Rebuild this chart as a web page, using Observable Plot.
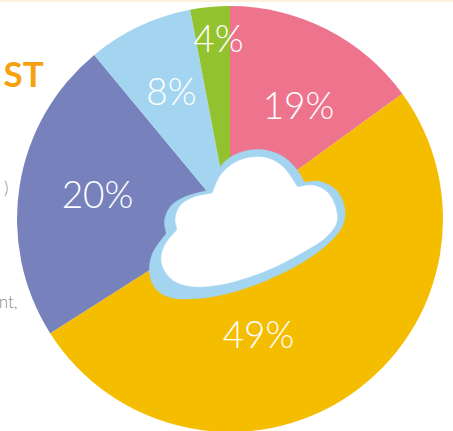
<!DOCTYPE html>
<html><head><meta charset="utf-8">
<script src="https://cdn.jsdelivr.net/npm/d3@7"></script>
<script src="https://cdn.jsdelivr.net/npm/@observablehq/plot@0.6"></script>
<style>
html,body{margin:0;padding:0;background:#fff;overflow:hidden}
#band{position:absolute;left:0;top:0;width:453px;height:2px;background:#fdf3dc}
svg{display:block}
</style></head><body>
<div id="chart"></div><div id="band"></div>
<script>
const categories = ["pink","yellow","purple","sky","green"];
const shares = [15, 51, 23, 8, 3];
const labels = ["19%","49%","20%","8%","4%"];
const colours = ["#ee738d","#f4bd00","#7782bd","#a3d5f1","#93c22f"];

const W = 453, H = 431, cx = 230, cy = 219, R = 213;
const labelX = [298,258,97,171,218];
const labelY = [107,336,196,93,40];

const rows = categories.map((c,i)=>({c,share:shares[i],label:labels[i],lx:labelX[i],ly:labelY[i]}));

const outerLobes = {
  left:[[166,233],[164,220],[170,206],[183,197],[207,190]],
  top:[[207,190],[215,173],[228,158],[247,150],[267,150],[284,157],[297,170],[304,182]],
  big:[[304,182],[320,181],[337,191],[344,207],[343,223],[331,240],[308,258],[281,273],[250,286],[223,294],[197,298],[170,297],[155,288],[149,272],[152,253],[166,233]]
};
const innerLobes = {
  left:[[177,229],[175,218],[180,205],[193,197],[212,193]],
  top:[[212,193],[220,175],[233,163],[250,157],[268,158],[283,167],[297,187]],
  big:[[297,187],[313,185],[327,192],[335,207],[336,222],[325,237],[300,253],[273,267],[247,277],[220,284],[193,286],[173,280],[163,268],[161,255],[166,242],[177,229]]
};
const flat = o => [...Object.entries(o).flatMap(([z,p])=>p.map(([x,y])=>({x,y,z}))),
                   ...Object.values(o).map(p=>({x:p[0][0],y:p[0][1],z:"core"}))];

function pie(index, scales){
  const g = d3.create("svg:g").attr("transform",`translate(${scales.x(cx)},${scales.y(cy)})`);
  const arcs = d3.pie().value(d=>d.share).sort(null)(rows);
  const r = scales.x(cx+R)-scales.x(cx);
  g.selectAll("path").data(arcs).join("path")
    .attr("d",d3.arc().innerRadius(0).outerRadius(r))
    .attr("fill",d=>scales.color(d.data.c));
  return g.node();
}
const cloud = (pts,fill,filter)=>[
  Plot.line(pts.filter(d=>d.z!=="core"),{x:"x",y:"y",z:"z",curve:"catmull-rom",fill,stroke:fill,strokeWidth:.5,style:{filter}}),
  Plot.line(pts.filter(d=>d.z==="core"),{x:"x",y:"y",curve:"linear-closed",fill,stroke:fill})
];
const labelFont = {fontFamily:"Lato",fontWeight:300};

document.getElementById("chart").append(Plot.plot({
  width:W,height:H,margin:0,
  x:{domain:[0,W],range:[0,W],axis:null},
  y:{domain:[0,H],range:[0,H],axis:null},
  color:{domain:categories,range:colours},
  style:{background:"transparent"},
  marks:[
    pie,
    ...cloud(flat(outerLobes),"#a3d5f1","drop-shadow(1px 3px 3px rgba(0,0,0,.35))"),
    ...cloud(flat(innerLobes),"#ffffff","drop-shadow(1px 2px 2px rgba(0,0,0,.4))"),
    Plot.text(rows,{x:"lx",y:"ly",text:"label",fill:"#fff",fontSize:37,...labelFont,textAnchor:"middle",lineAnchor:"middle"}),
    Plot.text(["ST"],{x:[3],y:[75],text:d=>d,fill:"#f7a10f",fontSize:35,fontFamily:"Lato",fontWeight:700,textAnchor:"start",lineAnchor:"middle"}),
    Plot.text([")"],{x:[8],y:[188],text:d=>d,fill:"#888",fontSize:17,fontFamily:"Lato",fontWeight:300,textAnchor:"end",lineAnchor:"middle"}),
    Plot.text(["nt,"],{x:[17],y:[302],text:d=>d,fill:"#888",fontSize:17,fontFamily:"Lato",fontWeight:300,textAnchor:"end",lineAnchor:"middle"})
  ]
}));
</script></body></html>
